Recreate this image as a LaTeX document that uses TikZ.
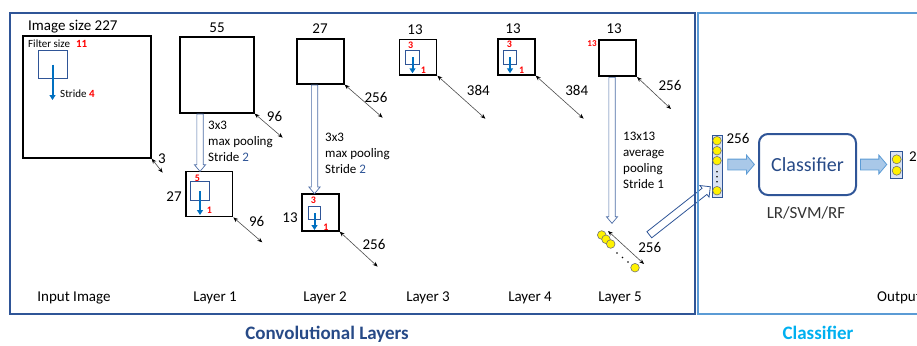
\documentclass[tikz,border=0pt]{standalone}
\usepackage{fontspec}
\setmainfont{Carlito}
\usetikzlibrary{arrows.meta,shapes.arrows,calc}
\definecolor{convB}{HTML}{2F5597}
\definecolor{clsB}{HTML}{5B9BD5}
\definecolor{strB}{HTML}{0070C0}
\definecolor{txtB}{HTML}{274A87}
\definecolor{cyanB}{HTML}{00B0F0}
\definecolor{redN}{HTML}{FF0000}
\definecolor{colF}{HTML}{DAE3F3}
\definecolor{blkF}{HTML}{A9C8E8}
\newcommand{\fsz}[1]{\fontsize{#1}{#1}\selectfont}
\newcommand{\blockarr}[3]{\path let \p1=($(#3)-(#2)$), \n1={veclen(\x1,\y1)}, \n2={atan2(\y1,\x1)} in node[#1,minimum height=\n1,rotate=\n2,anchor=tail] at (#2) {};}
\begin{document}
\begin{tikzpicture}[x=1pt,y=-1pt,
mapS/.style={draw=black,line width=1.3pt,inner sep=0pt},
filterS/.style={draw=convB,line width=1pt,inner sep=0pt},
strideS/.style={strB,line width=2pt,-{Triangle[length=5pt,width=6pt]}},
depthS/.style={black!70,line width=0.6pt,{Stealth[length=5pt,width=4pt,black]}-{Stealth[length=5pt,width=4pt,black]}},
poolS/.style={single arrow,draw=convB!85,fill=white,line width=0.7pt,inner xsep=0pt,inner ysep=2.8pt,single arrow head extend=2.4pt,single arrow tip angle=80},
diagS/.style={single arrow,draw=convB,fill=white,line width=0.8pt,inner xsep=0pt,inner ysep=3.5pt,single arrow head extend=3.5pt},
blkS/.style={single arrow,draw=clsB,fill=blkF,line width=0.8pt,inner xsep=0pt,inner ysep=5pt,single arrow head extend=4pt,single arrow tip angle=100},
numS/.style={font=\fsz{15},inner sep=0pt},
smallS/.style={font=\fsz{11},inner sep=0pt},
redS/.style={font=\fsz{10}\bfseries,text=redN,inner sep=0pt},
poolT/.style={font=\fontsize{13}{16}\selectfont,align=left,inner sep=0pt,anchor=north west},
ballS/.style={circle,fill=yellow,draw=black!55,line width=0.6pt,minimum size=8.6pt,inner sep=0pt},
colS/.style={draw=convB,fill=colF,line width=0.8pt,inner sep=0pt}]
\useasboundingbox (0,0) rectangle (917,345);

\node[mapS,minimum width=128pt,minimum height=122pt] (I) at (87,97) {};
\node[numS,anchor=base west] (tI) at (28,30.5) {Image size 227};
\node[filterS,minimum width=29pt,minimum height=27pt] (f0) at (52.5,64.5) {};
\node[smallS,anchor=base west] (fz0) at (28,48) {Filter size\hspace{6pt}\textcolor{redN}{\bfseries 11}};
\coordinate (s0) at (52.5,100);
\draw[strideS] (f0.center) -- (s0);
\node[smallS,anchor=base west] (st0) at (60,97) {Stride \textcolor{redN}{\bfseries 4}};
\draw[depthS] (I.south east) -- ++(11,14) coordinate (dI);
\node[numS] (nI) at (162,158.5) {3};

\node[mapS,minimum width=74pt,minimum height=76pt] (L1) at (217,75) {};
\node[numS] (w1) at (217,27.5) {55};
\draw[depthS] (L1.south east) -- ++(28,24) coordinate (dL1);
\node[numS] (n1) at (274.5,116.7) {96};
\node[mapS,minimum width=46.7pt,minimum height=45pt] (L1s) at (209.3,194.2) {};
\node[numS] (h1) at (174,196.7) {27};
\node[filterS,minimum width=18.6pt,minimum height=19pt] (f1) at (200,191.2) {};
\node[redS] (k1) at (197.3,178.3) {5};
\coordinate (s1) at (200,215);
\draw[strideS] (f1.center) -- (s1);
\node[redS] (r1) at (209.3,210) {1};
\draw[depthS] (L1s.south east) -- ++(29,25) coordinate (dL1s);
\node[numS] (n1s) at (256.7,221.7) {96};
\blockarr{poolS}{L1.south -| f1.center}{L1s.north -| f1.center}
\node[poolT] (p1) at (208,121) {3x3\\max pooling\\Stride \textcolor{convB}{2}};

\node[mapS,minimum width=47pt,minimum height=45pt] (L2) at (320.5,61.5) {};
\node[numS] (w2) at (320,29) {27};
\draw[depthS] (L2.south east) -- ++(38,33) coordinate (dL2);
\node[numS] (n2) at (376,97) {256};
\node[mapS,minimum width=37pt,minimum height=37pt] (L2s) at (320.5,212.5) {};
\node[numS] (h2) at (290,217.5) {13};
\node[filterS,minimum width=12.4pt,minimum height=13.3pt] (f2) at (314.5,213.3) {};
\node[redS] (k2) at (313.3,200.7) {3};
\coordinate (s2) at (314.5,230);
\draw[strideS] (f2.center) -- (s2);
\node[redS] (r2) at (326,227) {1};
\draw[depthS] (L2s.south east) -- ++(38,35) coordinate (dL2s);
\node[numS] (n2s) at (374,244.5) {256};
\blockarr{poolS}{L2.south -| f2.center}{L2s.north -| f2.center}
\node[poolT] (p2) at (325,133) {3x3\\max pooling\\Stride \textcolor{convB}{2}};

\node[mapS,minimum width=37.4pt,minimum height=35.7pt] (L3) at (418,57.2) {};
\node[numS] (w3) at (415,29.3) {13};
\node[filterS,minimum width=13.6pt,minimum height=13.6pt] (f3) at (412.5,57.5) {};
\node[redS] (k3) at (410.7,45) {3};
\coordinate (s3) at (412.5,73.3);
\draw[strideS] (f3.center) -- (s3);
\node[redS] (r3) at (423.3,70.7) {1};
\draw[depthS] (L3.south east) -- ++(48,43) coordinate (dL3);
\node[numS] (n3) at (478.3,90.5) {384};

\node[mapS,minimum width=37pt,minimum height=36pt] (L4) at (516.5,57) {};
\node[numS] (w4) at (513,29) {13};
\node[filterS,minimum width=13.6pt,minimum height=13.6pt] (f4) at (510,57.5) {};
\node[redS] (k4) at (509.3,44.3) {3};
\coordinate (s4) at (510,73.3);
\draw[strideS] (f4.center) -- (s4);
\node[redS] (r4) at (521.7,70.7) {1};
\draw[depthS] (L4.south east) -- ++(48,43) coordinate (dL4);
\node[numS] (n4) at (576.7,90.5) {384};

\node[mapS,line width=2pt,minimum width=37pt,minimum height=36pt] (L5) at (617.5,58) {};
\node[numS] (w5) at (614,29) {13};
\node[redS,font=\fsz{9}\bfseries] (k5) at (592,44) {13};
\draw[depthS] (L5.south east) -- ++(34,32) coordinate (dL5);
\node[numS] (n5) at (670,85.5) {256};
\coordinate (p5a) at ($(L5.south)+(-5.5,0)$);
\coordinate (p5b) at ($(p5a)+(0,146)$);
\blockarr{poolS}{p5a}{p5b}
\node[poolT] (p5) at (623,132) {13x13\\average\\pooling\\Stride 1};
\foreach \n/\x/\y in {1/601.7/235,2/606/239.3,3/610.7/244,4/635/267.7}
  \node[ballS] (b\n) at (\x,\y) {};
\foreach \x/\y in {617/253,622.5/257.5,628/262}
  \fill (\x,\y) circle (0.9);
\coordinate (v1) at (608,231);
\coordinate (v2) at (644,264);
\draw[depthS] (v1) -- (v2);
\node[numS] (n5s) at (649.7,247.7) {256};
\coordinate (t5a) at (649,235);
\coordinate (t5b) at (710,187);
\blockarr{diagS}{t5a}{t5b}

\node[colS,minimum width=10pt,minimum height=62pt] (col) at (717,166) {};
\foreach \n/\y in {1/140.7,2/150.7,3/160.7,4/190.7}
  \node[ballS] (c\n) at (717,\y) {};
\foreach \y in {171.7,176.7,181.7}
  \fill (717,\y) circle (0.9);
\node[numS] (nc) at (738,138) {256};
\node[draw=convB,line width=2pt,rounded corners=9pt,minimum width=97pt,minimum height=61pt,font=\fsz{20},text=txtB] (cls) at (807.5,164.5) {Classifier};
\node[font=\fsz{17},text=black!80,inner sep=0pt,anchor=base] (alg) at (806,218.5) {LR/SVM/RF};
\node[colS,minimum width=11.3pt,minimum height=26.3pt] (out) at (896.4,164.9) {};
\node[ballS,minimum size=9pt] (o1) at (896.7,159.3) {};
\node[ballS,minimum size=9pt] (o2) at (896.7,170.7) {};
\node[numS] (no) at (913,157) {2};
\coordinate (a1) at ($(col.east |- cls.west)+(5,0)$);
\coordinate (a2) at ($(cls.west)+(-4,0)$);
\coordinate (a3) at ($(cls.east)+(3,0)$);
\coordinate (a4) at ($(out.west |- cls.east)+(-4,0)$);
\blockarr{blkS}{a1}{a2}
\blockarr{blkS}{a3}{a4}

\draw[convB,line width=2pt] (10,13) rectangle (695,314);
\draw[clsB,line width=2pt] (698,13) rectangle (935,314);
\foreach \n/\x/\t in {0/74/Input Image,1/215/Layer 1,2/325/Layer 2,3/428/Layer 3,4/530/Layer 4,5/620/Layer 5}
  \node[numS,anchor=base] (lab\n) at (\x,301) {\t};
\node[numS,anchor=base west] (labO) at (877,301) {Output};
\node[font=\fsz{19}\bfseries,text=txtB,inner sep=0pt,anchor=base] (tConv) at (327,339) {Convolutional Layers};
\node[font=\fsz{19}\bfseries,text=cyanB,inner sep=0pt,anchor=base] (tCls) at (818,339) {Classifier};
\end{tikzpicture}
\end{document}
